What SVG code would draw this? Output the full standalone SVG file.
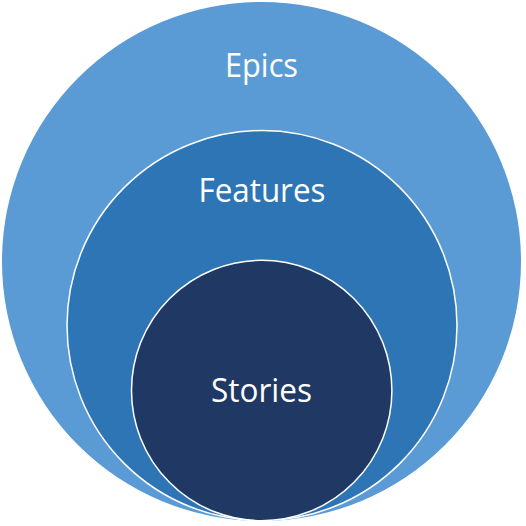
<svg xmlns="http://www.w3.org/2000/svg" width="526" height="526" viewBox="0 0 526 526">
<style>
.lbl{font-family:"Open Sans","Noto Sans",sans-serif;font-size:33px;fill:#ffffff;text-anchor:middle}
.ring{stroke:#ffffff;stroke-width:1.5}
</style>
<rect width="526" height="526" fill="#ffffff"/>
<g id="epics">
<circle cx="261.5" cy="261.5" r="259.5" fill="#5B9BD5"/>
<text class="lbl" x="261.5" y="77" textLength="73" lengthAdjust="spacingAndGlyphs">Epics</text>
</g>
<g id="features">
<circle class="ring" cx="262" cy="325.5" r="195" fill="#2E75B6"/>
<text class="lbl" x="262" y="202" textLength="127" lengthAdjust="spacingAndGlyphs">Features</text>
</g>
<g id="stories">
<circle class="ring" cx="261.7" cy="390.5" r="130.2" fill="#203864"/>
<text class="lbl" x="261.5" y="402" textLength="101" lengthAdjust="spacingAndGlyphs">Stories</text>
</g>
<g id="connectors"/>
</svg>
